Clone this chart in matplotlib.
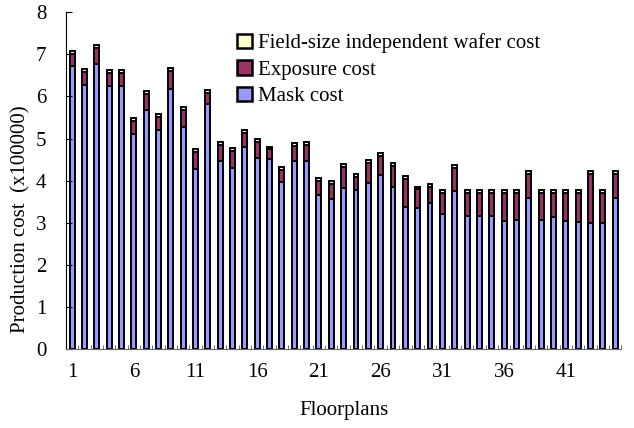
import matplotlib
matplotlib.use("Agg")
import matplotlib.pyplot as plt
import numpy as np

# production cost per floorplan (x100000)
floorplans = list(range(1, 46))
mask_cost = [6.72, 6.27, 6.77, 6.24, 6.24, 5.11, 5.68, 5.20, 6.18, 5.28,
             4.28, 5.81, 4.46, 4.29, 4.81, 4.54, 4.52, 3.96, 4.47, 4.47,
             3.65, 3.56, 3.82, 3.78, 3.95, 4.13, 3.86, 3.38, 3.35, 3.47,
             3.20, 3.76, 3.15, 3.15, 3.15, 3.04, 3.07, 3.59, 3.06, 3.13,
             3.05, 3.02, 3.00, 3.00, 3.58]
exposure_cost = [0.29, 0.31, 0.39, 0.31, 0.31, 0.30, 0.37, 0.31, 0.42, 0.39,
                 0.40, 0.27, 0.38, 0.41, 0.32, 0.37, 0.22, 0.29, 0.36, 0.38,
                 0.34, 0.35, 0.50, 0.30, 0.47, 0.45, 0.49, 0.67, 0.44, 0.39,
                 0.51, 0.53, 0.56, 0.56, 0.56, 0.67, 0.64, 0.56, 0.65, 0.58,
                 0.66, 0.69, 1.15, 0.71, 0.57]
wafer_cost = [0.07, 0.07, 0.07, 0.07, 0.07, 0.07, 0.07, 0.07, 0.07, 0.07,
              0.07, 0.07, 0.07, 0.07, 0.07, 0.07, 0.07, 0.07, 0.07, 0.07,
              0.07, 0.07, 0.07, 0.07, 0.07, 0.07, 0.07, 0.07, 0.07, 0.07,
              0.07, 0.07, 0.07, 0.07, 0.07, 0.07, 0.07, 0.07, 0.07, 0.07,
              0.07, 0.07, 0.07, 0.07, 0.07]
xtick_labels = ['1', '6', '11', '16', '21', '26', '31', '36', '41']

plt.rcParams['font.family'] = ['Liberation Serif', 'DejaVu Serif']

fig = plt.figure(figsize=(6.34, 4.28), dpi=100)
ax = fig.add_axes([0.104, 0.1846, 0.876, 0.7867])

x = np.array(floorplans)
mask = np.array(mask_cost)
expo = np.array(exposure_cost)
wafer = np.array(wafer_cost)

w = 0.4
lw = 1.4
ax.bar(x, mask, w, color='#9999FF', edgecolor='black', linewidth=lw, label='Mask cost')
ax.bar(x, expo, w, bottom=mask, color='#993366', edgecolor='black', linewidth=lw,
       label='Exposure cost')
ax.bar(x, wafer, w, bottom=mask + expo, color='#FFFFCC', edgecolor='black', linewidth=lw,
       label='Field-size independent wafer cost')

ax.set_xlim(0.5, 45.5)
ax.set_ylim(0, 8)
ax.set_yticks(range(0, 9))
ax.tick_params(axis='y', direction='in', length=4, labelsize=15, pad=14)

ax.set_xticks([int(t) for t in xtick_labels])
ax.set_xticklabels(xtick_labels)
ax.set_xticks(np.arange(0.5, 46, 1), minor=True)
ax.tick_params(axis='x', which='major', length=0, labelsize=15, pad=10)
ax.tick_params(axis='x', which='minor', direction='in', length=3, color='#555555')

ax.spines['top'].set_visible(False)
ax.spines['right'].set_visible(False)
ax.spines['bottom'].set_color('#666666')

ax.set_xlabel('Floorplans', fontsize=15, labelpad=14)
ax.set_ylabel('Production cost  (x100000)', fontsize=15)
ax.yaxis.set_label_coords(-0.064, 0.386)

handles, labels = ax.get_legend_handles_labels()
leg = ax.legend(handles[::-1], labels[::-1], loc='upper left', bbox_to_anchor=(0.293, 0.962),
                frameon=False, fontsize=15, handlelength=0.7, handleheight=0.7,
                handletextpad=0.3, labelspacing=0.33, borderaxespad=0)
for h in leg.legend_handles:
    h.set_linewidth(1.8)

fig.savefig('out.png', dpi=100)
